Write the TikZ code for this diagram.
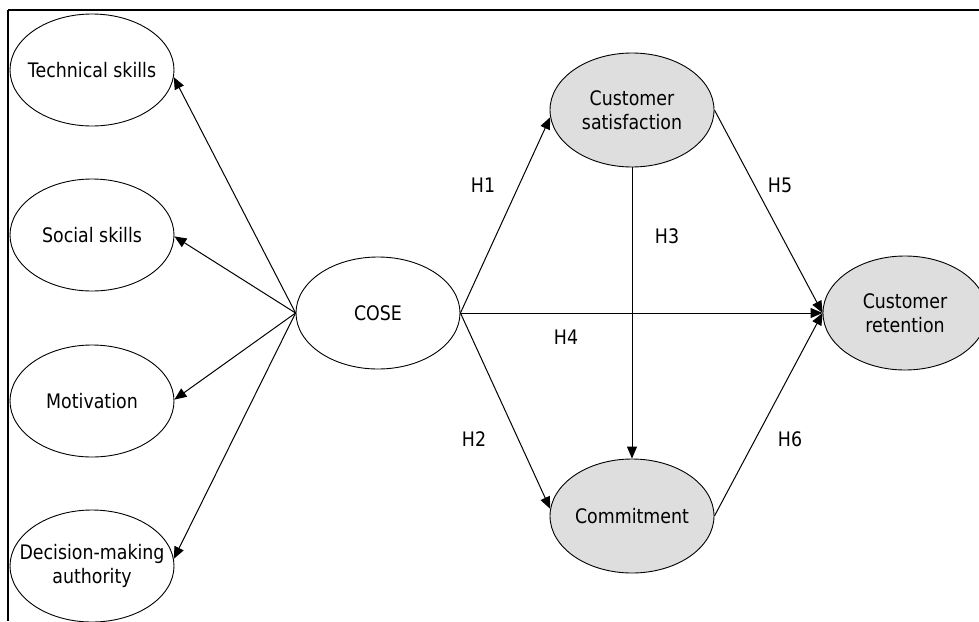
\documentclass[tikz,border=0pt]{standalone}
\usepackage{fontspec}
\setmainfont{DejaVu Sans}[FakeStretch=0.87]
\usetikzlibrary{shapes.geometric,arrows.meta}

\begin{document}
\begin{tikzpicture}[x=1pt,y=-1pt,line width=1pt,
    construct/.style={ellipse,draw,line width=0.9pt,minimum width=164pt,
        minimum height=112pt,inner xsep=-20pt,inner ysep=0pt,align=center,
        font=\fontsize{20}{24}\selectfont},
    outcome/.style={construct,fill=black!13,minimum height=114pt},
    link/.style={-{Triangle[length=12pt,width=10pt]}},
    hyp/.style={font=\fontsize{20}{24}\selectfont}]
    \useasboundingbox (0,0) rectangle (979,621);
    % frame of the figure, cut off at the right and at the bottom
    \draw[line width=2pt] (8,10) -- (979,10);
    \draw[line width=1.5pt] (8,10) -- (8,621);
    % dimensions of COSE
    \node[construct] (tech)     at (92,70)  {Technical skills};
    \node[construct] (social)   at (92,235) {Social skills};
    \node[construct] (motiv)    at (92,401) {Motivation};
    \node[construct] (decision) at (92,566) {Decision-making\\authority};
    \node[construct] (cose)     at (378,313) {COSE};
    % outcomes
    \node[outcome] (sat)    at (632,110) {Customer\\satisfaction};
    \node[outcome] (commit) at (632,516) {Commitment};
    \node[outcome] (retain) at (905,313) {Customer\\retention};
    \foreach \dim/\ang in {tech/-5,social/-1,motiv/1,decision/5}
        \draw[link] (cose.west) -- (\dim.\ang);
    \draw[link] (cose.east) -- (sat.185);
    \draw[link] (cose.east) -- (commit.175);
    \draw[link] (cose.east) -- (retain.west);
    \draw[link] (sat.south) -- (commit.north);
    \draw[link] (sat.east) -- (retain.west);
    \draw[link] (commit.east) -- (retain.west);
    % hypotheses
    \node[hyp] (h1) at (483,185) {H1};
    \node[hyp] (h2) at (474,439) {H2};
    \node[hyp] (h3) at (667,236) {H3};
    \node[hyp] (h4) at (566,337) {H4};
    \node[hyp] (h5) at (780,185) {H5};
    \node[hyp] (h6) at (790,439) {H6};
\end{tikzpicture}
\end{document}
